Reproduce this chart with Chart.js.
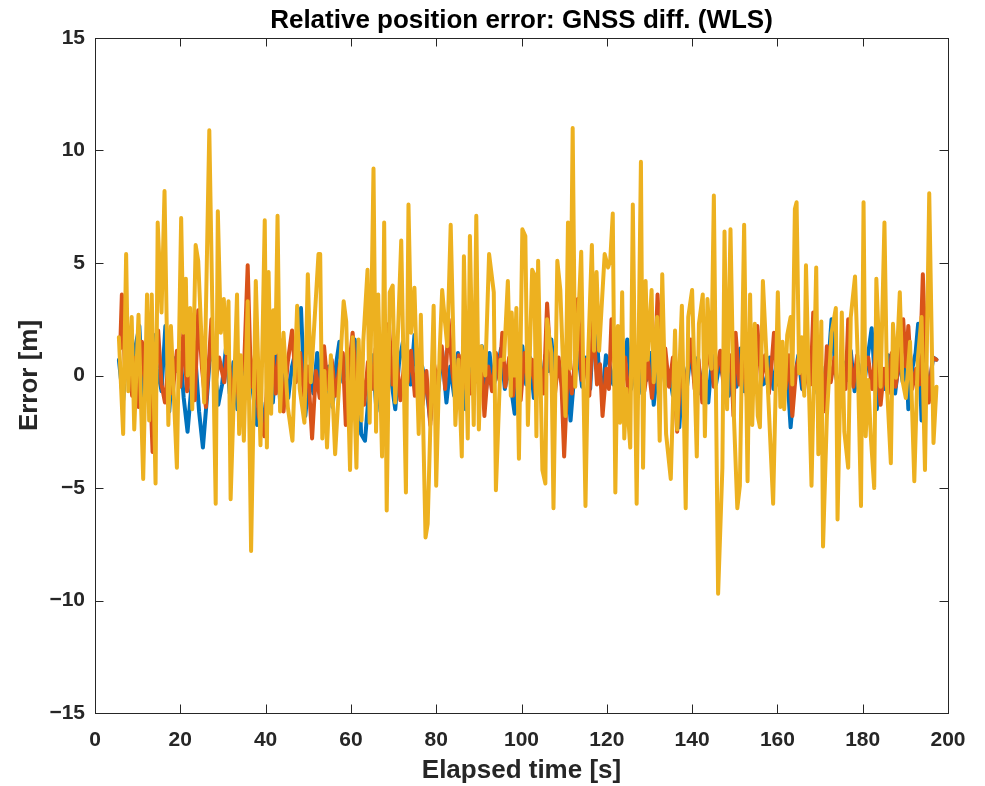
<!DOCTYPE html>
<html>
<head>
<meta charset="utf-8">
<title>Relative position error</title>
<script src="https://cdn.jsdelivr.net/npm/chart.js@4.4.1/dist/chart.umd.min.js"></script>
<style>
  html, body { margin: 0; padding: 0; background: #fff; }
  canvas { display: block; }
</style>
</head>
<body>
<canvas id="errChart" width="985" height="786"></canvas>
<script>
// values (time [s], error [m])
const blueT = [5.6, 6.6, 7.5, 8.5, 9.4, 10.4, 11.2, 12.2, 13.0, 13.8, 14.6, 15.6, 16.5, 17.4, 18.3, 19.2, 20.0, 20.8, 21.7, 22.6, 23.5, 24.4, 25.3, 26.2, 27.1, 28.0, 28.9, 29.8, 30.7, 31.6, 32.5, 33.4, 34.3, 35.2, 36.1, 37.0, 38.0, 39.0, 39.8, 40.8, 41.7, 42.6, 43.5, 44.4, 45.3, 46.2, 47.2, 48.3, 49.3, 50.3, 51.2, 52.1, 53.0, 53.9, 54.8, 55.7, 56.6, 57.3, 58.2, 59.1, 60.0, 60.9, 61.8, 62.4, 63.3, 64.2, 65.1, 66.0, 66.9, 67.8, 68.7, 69.6, 70.4, 71.3, 72.2, 73.1, 74.0, 74.9, 75.8, 76.7, 77.7, 78.6, 79.5, 80.4, 81.4, 82.4, 83.3, 84.2, 85.1, 86.0, 86.9, 87.8, 88.7, 89.7, 90.7, 91.6, 92.5, 93.4, 94.3, 95.2, 96.1, 97.0, 97.8, 98.4, 99.3, 100.2, 101.1, 102.0, 102.9, 103.8, 104.7, 105.6, 106.3, 107.0, 107.9, 108.8, 109.7, 110.6, 111.5, 112.4, 113.3, 114.2, 115.1, 116.1, 117.2, 118.1, 119.0, 119.8, 120.6, 121.5, 122.4, 123.3, 124.1, 124.8, 125.7, 126.6, 127.5, 128.4, 129.3, 130.2, 131.0, 131.9, 132.8, 133.7, 134.6, 135.5, 136.4, 137.0, 137.9, 138.8, 139.7, 140.6, 141.4, 142.0, 142.9, 143.8, 144.7, 145.6, 146.5, 147.4, 148.6, 149.5, 150.4, 151.3, 152.2, 153.1, 154.0, 154.9, 155.8, 156.6, 157.3, 158.2, 159.1, 160.0, 160.9, 161.8, 162.5, 163.1, 164.0, 164.9, 165.8, 166.7, 167.6, 168.5, 169.4, 170.3, 171.2, 172.0, 172.7, 173.6, 174.5, 175.4, 176.3, 177.2, 178.1, 179.0, 179.9, 180.8, 182.1, 183.3, 184.2, 185.1, 186.0, 186.8, 187.6, 188.5, 189.4, 190.2, 190.7, 191.6, 192.4, 193.0, 193.8, 194.7, 195.6, 196.5, 197.3];
const blueV = [0.7, -1.1, 1.5, -0.6, 1.2, 2.2, -0.9, 1.4, -0.5, 1.8, 0.3, -0.7, 2.2, -1.6, 0.8, 0.2, 1.0, -1.0, -2.5, -0.5, 0.9, -1.6, -3.2, -1.1, 1.3, 0.5, -1.3, -0.4, 1.2, -0.8, 0.6, -1.5, 0.5, -0.9, 1.0, -0.7, -2.2, -1.2, -2.6, 0.6, -1.2, 1.1, -1.4, 0.8, -1.0, 0.4, 1.2, 3.0, -1.8, 0.2, -0.8, 1.0, -0.5, -1.3, 0.4, -1.4, 0.6, 1.5, -0.3, 1.0, -1.2, 1.6, 0.2, -2.6, -2.9, -0.8, 0.9, -1.6, 0.4, -1.0, 1.0, -0.4, -1.5, 0.6, 1.5, 0.3, -0.4, 1.8, -1.3, 0.4, -0.5, -2.0, 0.3, -0.8, 1.1, -1.2, 0.4, -0.9, 1.0, -0.3, -1.5, 0.7, -0.6, 0.5, 1.3, -0.8, 1.0, -0.5, 0.2, 1.2, -0.6, 0.5, -0.9, -1.7, 0.3, 1.3, -0.4, 0.8, -1.0, 0.4, -0.7, 0.9, 0.2, 1.6, -0.3, 0.6, -0.6, 0.3, -2.0, 0.1, 1.0, -0.5, 0.8, -0.6, 3.3, 0.4, -0.8, 0.9, 0.5, -0.4, 1.2, -0.2, 0.5, 1.6, -0.6, 0.4, -0.8, 0.7, -0.2, 1.0, -1.3, 0.3, 1.2, -0.4, 0.2, -0.9, 0.5, -2.3, 0.4, -0.5, 1.1, -0.3, 0.8, -0.8, 0.5, -1.2, 0.9, -0.4, 0.6, -0.2, -0.9, 0.8, -0.5, 1.2, -0.7, 0.3, -1.0, 0.7, 1.3, -0.4, -0.3, 0.8, -0.6, 1.0, -0.3, 0.6, -0.5, -2.3, -0.2, 0.9, -0.6, 1.3, -0.4, 0.7, -0.8, 0.4, -1.5, 0.6, 2.5, 0.2, -0.8, 0.6, -0.2, 1.1, -0.7, 0.5, -1.1, 0.3, 2.1, -1.5, 0.4, -0.6, 0.9, 0.2, -0.8, 0.7, -0.3, 0.8, -1.5, 0.3, 1.0, 2.3, -2.0, 0.4, -0.6, 0.8, 0.7];

const orangeT = [5.9, 6.3, 7.0, 7.8, 8.7, 9.5, 10.2, 11.0, 11.8, 12.7, 13.5, 14.2, 14.8, 15.6, 16.4, 17.3, 18.2, 19.2, 20.0, 20.7, 21.6, 22.5, 23.4, 24.2, 25.1, 26.0, 26.7, 27.3, 28.2, 29.1, 30.3, 31.2, 32.1, 33.0, 33.9, 34.4, 35.0, 35.8, 36.6, 37.5, 38.4, 39.7, 40.6, 41.5, 42.4, 43.3, 44.2, 45.2, 46.2, 47.1, 48.1, 49.0, 49.9, 50.9, 51.8, 52.7, 53.7, 54.6, 55.5, 56.4, 57.4, 58.1, 58.8, 59.6, 60.4, 61.3, 62.2, 63.1, 64.0, 64.9, 65.8, 66.7, 67.6, 68.3, 68.9, 69.8, 70.7, 71.6, 72.5, 73.3, 74.1, 75.0, 75.9, 76.8, 77.7, 78.6, 79.5, 80.4, 81.3, 82.1, 82.9, 83.8, 84.6, 85.3, 86.2, 87.1, 88.0, 88.9, 89.8, 90.6, 91.3, 92.2, 93.1, 94.0, 94.8, 95.5, 96.2, 97.1, 98.0, 98.9, 99.8, 100.7, 101.6, 102.5, 103.4, 104.3, 105.2, 106.0, 106.9, 107.8, 108.7, 109.4, 110.0, 110.9, 111.8, 112.5, 113.2, 114.1, 115.0, 115.9, 116.8, 117.7, 118.4, 119.0, 119.9, 120.5, 121.1, 121.8, 122.5, 123.4, 124.3, 125.2, 126.1, 127.0, 127.9, 128.8, 129.7, 130.6, 131.3, 131.9, 132.8, 133.7, 134.6, 135.5, 136.5, 137.4, 138.3, 139.1, 139.7, 140.6, 141.5, 142.4, 143.3, 144.2, 145.1, 145.9, 146.6, 147.5, 148.4, 149.1, 149.7, 150.2, 151.1, 152.0, 152.9, 153.8, 154.6, 155.3, 156.2, 157.1, 158.0, 158.6, 159.2, 160.1, 161.0, 161.9, 162.7, 163.5, 164.4, 165.3, 166.2, 167.1, 167.8, 168.4, 169.3, 170.2, 170.9, 171.6, 172.5, 173.4, 174.3, 175.2, 176.0, 176.6, 177.2, 177.8, 178.7, 179.6, 180.5, 181.3, 182.2, 183.1, 184.2, 185.0, 185.9, 186.8, 187.7, 188.6, 189.5, 190.1, 190.7, 191.6, 192.5, 193.3, 194.1, 194.8, 195.5, 196.4, 197.3];
const orangeV = [1.2, 3.6, 0.4, 1.9, -0.9, 0.8, -1.4, 1.5, -0.6, 0.9, -3.4, 0.2, 2.0, -0.4, -1.2, 0.7, -0.8, 1.1, -0.5, 1.9, -0.7, 0.5, -1.1, 2.9, 0.3, -1.4, 0.6, 2.5, -0.4, 0.8, -0.3, 1.4, -1.2, 0.3, -1.5, 0.2, 0.6, 4.9, -0.5, 0.9, -1.8, -2.7, 0.4, 1.3, -0.8, 1.6, -1.6, 0.6, 2.0, -0.3, 1.0, -0.9, 0.4, -2.8, 0.2, -1.0, 1.3, -0.6, 0.7, -0.9, 0.5, 1.0, -2.2, 0.4, 1.9, -0.5, 0.9, -1.3, 0.6, -0.6, 1.2, -1.0, 0.3, -0.8, 2.3, -0.4, 0.8, -1.1, 0.5, -0.3, 1.1, -0.9, 0.6, -1.3, 0.2, -2.2, 0.5, -0.4, 1.3, -0.6, 2.5, 0.1, -0.9, 0.9, -0.6, 1.2, -0.8, 0.6, -0.3, 0.7, -1.8, 0.4, -0.7, 1.0, -0.2, 1.9, -0.5, 0.8, -0.9, 0.6, -1.1, 1.0, -0.4, 0.7, -1.0, 0.5, -0.8, 3.2, 0.3, -0.9, 0.8, -0.5, -3.6, 0.4, -0.8, 0.6, 3.4, -0.2, 0.7, -0.9, 2.4, -0.4, 0.5, -1.8, 0.3, -0.6, 2.5, 0.6, 2.1, -0.6, 0.8, -1.2, 0.5, -0.3, 1.2, -0.7, 0.6, -1.0, 0.4, 3.6, 0.2, 1.2, -0.5, 0.8, -2.5, 0.4, -0.9, 0.5, 1.6, -0.6, 0.7, -1.2, 0.3, 1.3, -0.5, 0.4, 1.1, -0.7, 0.3, 0.9, -1.8, 1.9, -0.4, 0.6, -1.0, 0.5, -0.7, 2.2, -0.3, 0.9, -0.8, 0.4, 1.9, -0.4, 0.7, -0.6, 0.9, -1.8, 0.3, 1.0, -0.7, 0.6, -0.4, 2.8, -0.5, 0.5, -1.6, 1.3, -0.3, 0.8, -0.9, 0.5, -0.6, 2.5, 0.6, -0.5, 0.9, -1.1, 0.4, 0.8, -0.6, 1.2, -1.3, 0.3, -0.8, 1.0, -0.5, 0.6, 2.5, 0.4, 2.2, -0.6, 0.3, -0.4, 4.5, 0.6, -1.2, 0.8, 0.7];

const yellowT = [5.6, 6.6, 7.3, 7.8, 8.6, 9.2, 10.2, 11.3, 12.2, 12.7, 13.3, 14.2, 14.7, 15.6, 16.3, 17.2, 17.8, 19.2, 20.2, 20.7, 21.3, 21.7, 22.3, 22.8, 23.6, 24.2, 25.6, 26.8, 28.3, 28.8, 29.5, 30.2, 30.7, 31.3, 31.8, 33.3, 33.8, 34.2, 34.9, 35.8, 36.6, 37.7, 38.8, 39.8, 40.3, 40.7, 41.3, 41.8, 42.3, 42.8, 43.4, 44.2, 45.2, 46.3, 47.4, 48.0, 49.1, 49.9, 50.6, 51.4, 52.4, 52.8, 53.3, 53.8, 54.4, 55.3, 56.3, 57.3, 58.3, 58.9, 59.8, 60.4, 61.3, 61.8, 62.5, 62.9, 63.9, 64.4, 65.3, 65.9, 66.4, 67.3, 67.8, 68.4, 69.1, 69.8, 70.4, 71.0, 71.8, 72.9, 73.5, 74.1, 74.9, 75.9, 76.4, 77.5, 78.0, 79.4, 80.0, 80.8, 81.4, 82.0, 82.6, 83.4, 84.5, 85.2, 86.0, 86.5, 87.4, 87.9, 88.8, 89.4, 90.0, 90.6, 91.5, 92.4, 93.5, 94.0, 95.1, 95.9, 96.8, 97.5, 97.7, 98.3, 98.8, 99.4, 100.2, 100.9, 101.5, 102.5, 103.0, 103.5, 103.9, 104.9, 105.6, 106.0, 107.0, 107.5, 108.4, 109.1, 109.7, 110.3, 110.9, 111.4, 112.0, 112.6, 113.1, 114.0, 115.0, 115.6, 116.5, 117.0, 117.6, 118.2, 119.5, 120.3, 120.8, 121.4, 122.0, 122.6, 123.1, 123.6, 124.1, 124.6, 125.5, 126.1, 127.0, 128.0, 128.5, 129.1, 129.6, 130.5, 131.0, 131.8, 132.4, 133.0, 133.9, 135.0, 136.0, 136.5, 137.6, 138.5, 139.1, 140.0, 141.1, 141.6, 142.5, 143.0, 143.6, 144.5, 145.1, 146.1, 147.1, 147.6, 148.2, 149.0, 149.8, 150.6, 151.2, 152.2, 153.0, 153.6, 154.1, 154.7, 155.4, 155.9, 156.6, 157.3, 159.0, 160.1, 160.7, 161.2, 161.6, 162.3, 163.1, 163.5, 164.1, 164.5, 165.1, 165.7, 166.3, 166.7, 167.3, 168.0, 169.1, 169.6, 170.3, 170.7, 171.6, 172.7, 173.7, 174.1, 175.1, 175.7, 176.6, 177.2, 178.2, 178.8, 179.6, 180.2, 180.7, 181.3, 181.9, 182.7, 183.2, 184.2, 185.1, 185.7, 186.6, 187.1, 187.8, 188.7, 189.3, 190.1, 191.1, 192.1, 192.9, 193.8, 194.6, 195.6, 196.6, 197.3];
const yellowV = [1.7, -2.6, 5.4, -0.7, 2.6, -2.4, 2.7, -4.6, 3.6, -2.0, 3.6, -4.8, 6.8, 2.8, 8.2, -2.2, 2.2, -4.1, 7.0, 1.9, 4.3, 0.0, 3.0, -1.5, 5.8, 5.1, -1.2, 10.9, -5.7, 7.3, 1.9, 3.4, 1.0, 3.3, -5.5, 3.6, -2.6, 0.9, -2.9, 3.3, -7.8, 4.2, -3.1, 6.9, -3.2, 4.6, -1.7, 2.9, 1.0, 7.1, -1.6, 1.9, -1.4, -2.9, 3.1, -0.6, -2.1, 4.5, -0.3, 2.2, 5.4, 5.4, -2.8, 0.2, -3.2, 0.9, -3.5, -0.2, 3.3, 2.4, -4.2, 1.7, -4.1, 1.6, -2.0, 1.5, 4.7, -2.1, 9.2, -2.5, 3.6, -3.6, 6.8, -6.0, 3.7, 4.0, -1.2, 1.7, 6.0, -5.2, 7.6, 1.9, 3.9, -2.6, 2.7, -7.2, -6.6, 3.1, -4.9, 1.0, 3.8, 2.5, 1.3, 6.7, -2.2, 0.7, -3.6, 5.3, -2.8, 6.2, -2.2, 7.1, -2.4, 1.3, 0.0, 5.4, 3.7, -5.1, 0.7, 0.7, 4.2, -0.9, 2.8, 0.0, 3.0, -3.7, 6.5, 6.2, -2.2, 4.7, 4.5, -2.7, 5.1, -4.2, -4.8, 2.5, 1.0, -5.9, 5.1, 3.8, 0.7, -1.8, 6.8, 0.3, 11.0, -0.5, 1.6, 5.5, -5.8, 0.7, 5.8, 1.1, 4.6, 1.1, 5.4, 4.8, 5.1, 7.2, -5.2, 2.2, -2.1, 3.7, -2.8, -0.6, -3.2, 7.6, -5.7, 9.5, -4.1, 4.2, 0.7, 3.8, -0.3, 2.6, -2.9, 4.5, -2.6, -4.6, 2.0, -2.4, 3.1, -5.9, 2.6, 3.8, -3.6, 2.3, 3.6, -2.7, 3.4, 0.3, 8.0, -9.7, -4.1, 6.4, -1.5, 6.5, -1.8, -5.9, -4.9, 6.7, -4.7, 3.6, -2.2, 2.3, -1.8, -2.3, 4.2, 1.4, -5.7, 3.7, -1.4, 1.5, -1.5, 1.8, 2.6, -0.4, 7.4, 7.7, 0.1, 1.7, -0.9, 4.9, 0.1, -4.9, 4.8, -3.5, 2.4, -7.6, -1.8, 1.9, 3.0, -6.4, 2.8, -2.5, -4.1, 2.6, 4.4, 1.0, -5.8, 7.7, -2.7, -0.2, -2.7, -5.0, 4.3, -0.5, 6.8, -0.5, -3.9, 2.3, -0.1, 3.7, -0.2, -1.0, 1.5, -4.7, 0.7, 2.6, -4.2, 8.1, -3.0, -0.5];

const xTicks = [0, 20, 40, 60, 80, 100, 120, 140, 160, 180, 200];
const yTicks = [-15, -10, -5, 0, 5, 10, 15];

const FONT = '"Liberation Sans", Arial, Helvetica, sans-serif';
const AXIS_COLOR = '#262626';

function toPoints(ts, vs) {
    return ts.map((t, i) => ({ x: t, y: vs[i] }));
}

function lineSet(label, ts, vs, color, order) {
    return {
        label: label,
        data: toPoints(ts, vs),
        borderColor: color,
        backgroundColor: color,
        borderWidth: 4,
        borderJoinStyle: 'round',
        borderCapStyle: 'round',
        pointRadius: 0,
        tension: 0,
        fill: false,
        order: order
    };
}

// MATLAB style: title centred over the axes, box with ticks pointing inwards
const matlabBox = {
    id: 'matlabBox',
    afterLayout(chart) {
        const tb = chart.titleBlock;
        if (tb) {
            tb.left = chart.chartArea.left;
            tb.right = chart.chartArea.right;
        }
    },
    afterDraw(chart) {
        const { ctx, chartArea: a, scales } = chart;
        const len = 8.5;
        ctx.save();
        ctx.strokeStyle = AXIS_COLOR;
        ctx.lineWidth = 1;
        ctx.beginPath();
        scales.x.ticks.forEach(t => {
            const px = Math.round(scales.x.getPixelForValue(t.value)) + 0.5;
            ctx.moveTo(px, a.bottom); ctx.lineTo(px, a.bottom - len);
            ctx.moveTo(px, a.top); ctx.lineTo(px, a.top + len);
        });
        scales.y.ticks.forEach(t => {
            const py = Math.round(scales.y.getPixelForValue(t.value)) + 0.5;
            ctx.moveTo(a.left, py); ctx.lineTo(a.left + len, py);
            ctx.moveTo(a.right, py); ctx.lineTo(a.right - len, py);
        });
        ctx.stroke();
        ctx.strokeRect(Math.round(a.left) + 0.5, Math.round(a.top) + 0.5,
            Math.round(a.right - a.left), Math.round(a.bottom - a.top));
        ctx.restore();
    }
};

const minusSign = v => String(v).replace('-', '\u2212');

new Chart(document.getElementById('errChart').getContext('2d'), {
    type: 'line',
    data: {
        datasets: [
            lineSet('x', blueT, blueV, '#0072BD', 3),
            lineSet('y', orangeT, orangeV, '#D95319', 2),
            lineSet('z', yellowT, yellowV, '#EDB120', 1)
        ]
    },
    options: {
        responsive: false,
        animation: false,
        devicePixelRatio: 1,
        layout: { padding: { left: 0, right: 37, top: 0, bottom: 0 } },
        plugins: {
            legend: { display: false },
            tooltip: { enabled: false },
            title: {
                display: true,
                text: 'Relative position error: GNSS diff. (WLS)',
                color: '#000',
                font: { family: FONT, size: 26, weight: 'bold', lineHeight: 1.2 },
                padding: { top: 5, bottom: 1.8 }
            }
        },
        scales: {
            x: {
                type: 'linear',
                min: 0,
                max: 200,
                afterBuildTicks: s => { s.ticks = xTicks.map(v => ({ value: v })); },
                afterFit: s => { s.height = 73; },
                grid: { display: false, drawTicks: false },
                border: { display: false },
                ticks: {
                    color: AXIS_COLOR,
                    padding: 15,
                    maxRotation: 0,
                    font: { family: FONT, size: 21, weight: 'bold' }
                },
                title: {
                    display: true,
                    text: 'Elapsed time [s]',
                    color: AXIS_COLOR,
                    font: { family: FONT, size: 26, weight: 'bold', lineHeight: 1.2 },
                    padding: { top: 0, bottom: 0 }
                }
            },
            y: {
                min: -15,
                max: 15,
                afterBuildTicks: s => { s.ticks = yTicks.map(v => ({ value: v })); },
                afterFit: s => { s.width = 95; },
                grid: { display: false, drawTicks: false },
                border: { display: false },
                ticks: {
                    color: AXIS_COLOR,
                    padding: 10,
                    font: { family: FONT, size: 21, weight: 'bold' },
                    callback: v => minusSign(v)
                },
                title: {
                    display: true,
                    text: 'Error [m]',
                    color: AXIS_COLOR,
                    font: { family: FONT, size: 26, weight: 'bold', lineHeight: 1.2 },
                    padding: { top: 14, bottom: 0 }
                }
            }
        }
    },
    plugins: [matlabBox]
});
</script>
</body>
</html>
